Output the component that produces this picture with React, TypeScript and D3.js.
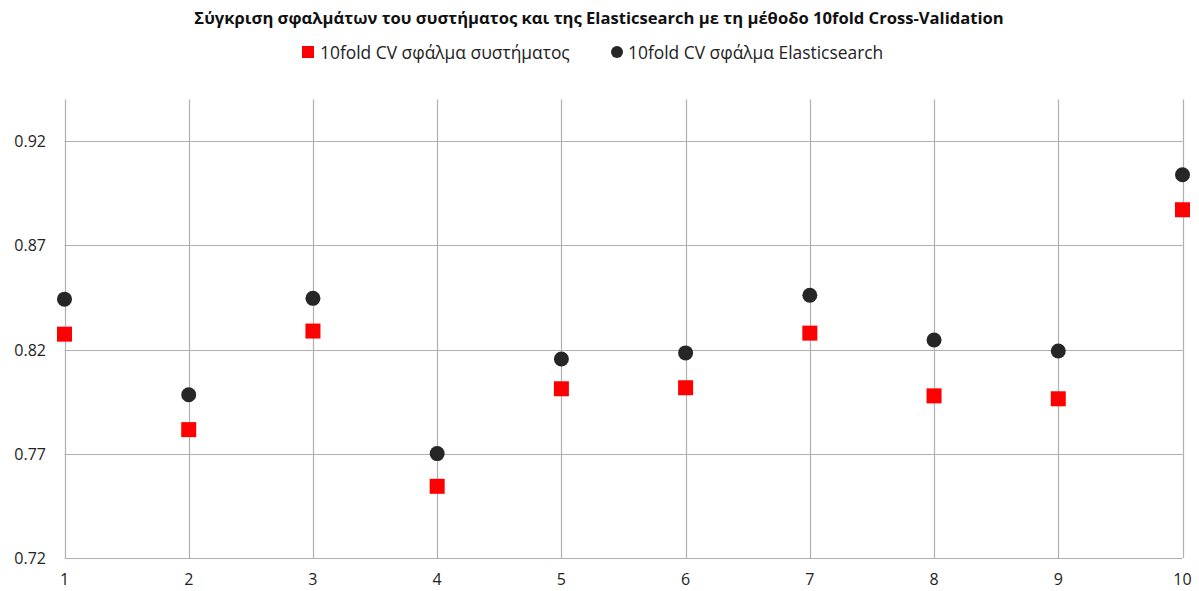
import React from "react";
import * as d3 from "d3";

const folds = [1, 2, 3, 4, 5, 6, 7, 8, 9, 10];
const systemError = [0.8274, 0.7816, 0.8289, 0.7544, 0.8012, 0.8017, 0.8279, 0.7978, 0.7964, 0.8871];
const elasticError = [0.8442, 0.7983, 0.8446, 0.7701, 0.8155, 0.8184, 0.8461, 0.8246, 0.8193, 0.9039];
const yTicks = [0.72, 0.77, 0.82, 0.87, 0.92];
const title = "Σύγκριση σφαλμάτων του συστήματος και της Elasticsearch με τη μέθοδο 10fold Cross-Validation";
const seriesNames = ["10fold CV σφάλμα συστήματος", "10fold CV σφάλμα Elasticsearch"];

const W = 1199;
const H = 591;
const FONT = "'Open Sans', 'Noto Sans', sans-serif";

export default function App() {
  const x = d3.scaleLinear().domain([1, 10]).range([64.5, 1182.5]);
  const y = d3.scaleLinear().domain([0.72, 0.94]).range([558, 99.5]);
  const grid = "#b0b0b0";
  return (
    <svg width={W} height={H} style={{ position: "absolute", left: 0, top: 0, background: "#fff" }}>
      <text x={599} y={24} textAnchor="middle" fontFamily={FONT} fontWeight="bold" fontSize={16.6} fill="#111">
        {title}
      </text>
      <rect x={302} y={46} width={12} height={12} fill="#ff0000" />
      <text x={320} y={59} fontFamily={FONT} fontSize={17.4} fill="#222">{seriesNames[0]}</text>
      <circle cx={617} cy={52} r={6} fill="#262626" />
      <text x={628} y={59} fontFamily={FONT} fontSize={17.4} fill="#222">{seriesNames[1]}</text>

      {yTicks.map((t) => (
        <g key={"h" + t}>
          <line x1={64.5} x2={1182.5} y1={Math.round(y(t)) + 0.5} y2={Math.round(y(t)) + 0.5} stroke={grid} strokeWidth={1.2} />
          <text x={46} y={y(t) + 6} textAnchor="end" fontFamily={FONT} fontSize={16} fill="#222">
            {d3.format(".2f")(t)}
          </text>
        </g>
      ))}
      {folds.map((f) => (
        <g key={"v" + f}>
          <line x1={Math.round(x(f)) + 0.5} x2={Math.round(x(f)) + 0.5} y1={y(0.94)} y2={y(0.72)} stroke={grid} strokeWidth={1.2} />
          <text x={x(f)} y={585} textAnchor="middle" fontFamily={FONT} fontSize={16} fill="#222">
            {f}
          </text>
        </g>
      ))}
      {folds.map((f, i) => (
        <circle key={"c" + f} cx={x(f)} cy={y(elasticError[i])} r={7.5} fill="#262626" />
      ))}
      {folds.map((f, i) => (
        <rect key={"s" + f} x={x(f) - 7.5} y={y(systemError[i]) - 7.5} width={15} height={15} fill="#ff0000" />
      ))}
    </svg>
  );
}
